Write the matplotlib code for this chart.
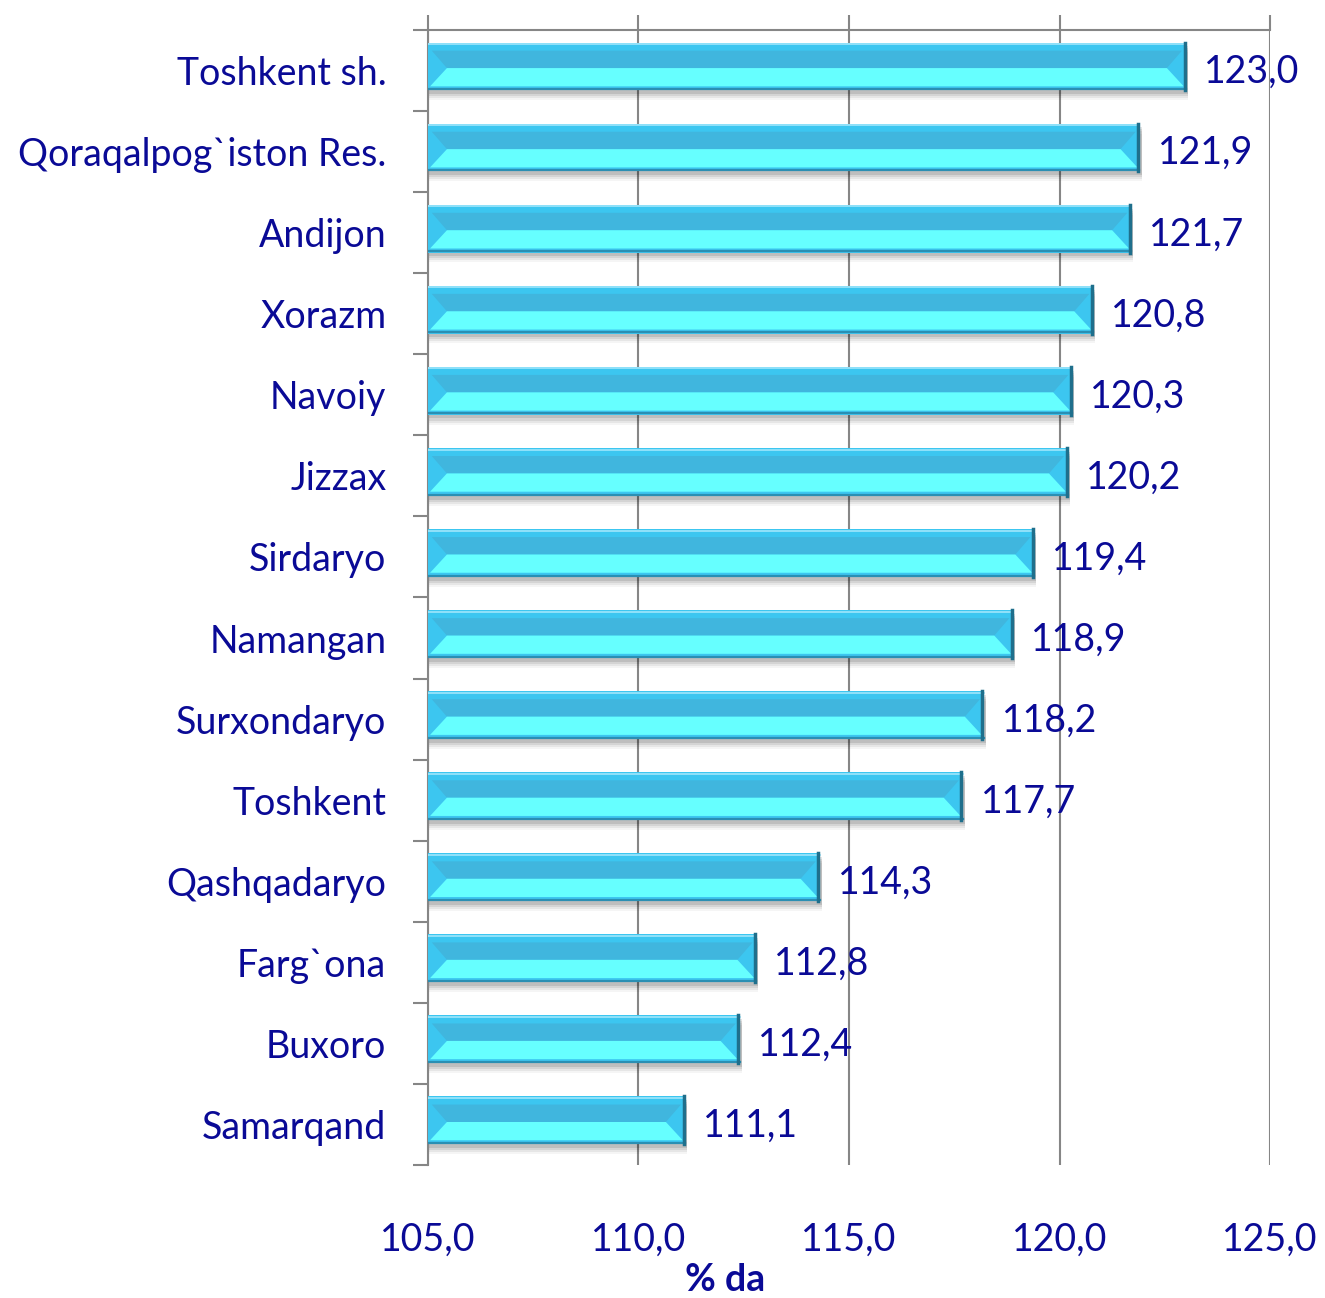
import matplotlib.pyplot as plt
from matplotlib.ticker import FixedLocator
import numpy as np

regions = ['Toshkent sh.', 'Qoraqalpog`iston Res.', 'Andijon', 'Xorazm', 'Navoiy',
           'Jizzax', 'Sirdaryo', 'Namangan', 'Surxondaryo', 'Toshkent',
           'Qashqadaryo', 'Farg`ona', 'Buxoro', 'Samarqand']
values = [123.0, 121.9, 121.7, 120.8, 120.3, 120.2, 119.4, 118.9, 118.2, 117.7,
          114.3, 112.8, 112.4, 111.1]
x_ticks = [105, 110, 115, 120, 125]

navy = '#0a0a96'
grid_c = '#868686'
fs = 27
plt.rcParams['font.family'] = ['Lato', 'DejaVu Sans']

fig = plt.figure(figsize=(13.25, 12.98), dpi=100)
ax = fig.add_axes([0.323, 0.1025, 0.6355, 0.8744])

xmin = x_ticks[0]
pos = np.arange(len(regions))
h = 0.59          # bar height in category units
d = 0.45          # bevel width in value units

for y, v in zip(pos, values):
    yc = y - 0.05
    top, bot, mid = yc - h / 2, yc + h / 2, yc + 0.02
    # soft shadow under the bar
    for k, a in enumerate([0.10, 0.08, 0.06, 0.04]):
        ax.barh(yc + h * 0.08 + k * 0.025, v - xmin + 0.05, height=h, left=xmin,
                color='black', alpha=a, linewidth=0, zorder=2)
    # base body
    ax.barh(yc, v - xmin, height=h, left=xmin, color='#3cc6f0', linewidth=0, zorder=3)
    # darker upper face
    ax.fill([xmin + d, v - d, v - d * 0.2, xmin + d * 0.2],
            [mid, mid, top + 0.1, top + 0.1], color='#40b6de', lw=0, zorder=4)
    # light lower face
    ax.fill([xmin + d, v - d, v - 0.05, xmin + 0.05],
            [mid, mid, bot - 0.05, bot - 0.05], color='#66ffff', lw=0, zorder=4)
    # thin highlight on top, dark rim at bottom and right
    ax.plot([xmin, v], [top + 0.02, top + 0.02], color='#9fe6fb', lw=1.2, zorder=5)
    ax.plot([xmin, v], [bot - 0.015, bot - 0.015], color='#2a8fb3', lw=1.6, zorder=5)
    ax.plot([v - 0.03, v - 0.03], [top, bot], color='#1f6f8c', lw=2.5, zorder=5)
    ax.text(v + 0.43, y + 0.02, f'{v:.1f}'.replace('.', ','), color=navy,
            fontsize=fs, va='center', ha='left', zorder=6)

ax.set_xlim(x_ticks[0], x_ticks[-1])
ax.set_ylim(len(regions) - 0.5, -0.5)

ax.set_xticks(x_ticks)
ax.set_xticklabels([f'{t:.1f}'.replace('.', ',') for t in x_ticks], color=navy, fontsize=fs)
ax.tick_params(axis='x', top=True, bottom=False, labeltop=False, labelbottom=True,
               direction='out', length=11, width=1.5, color=grid_c, pad=30)

ax.set_yticks(pos)
ax.set_yticklabels(regions, color=navy, fontsize=fs)
ax.yaxis.set_minor_locator(FixedLocator(np.arange(len(regions) + 1) - 0.5))
ax.tick_params(axis='y', which='major', length=0, pad=30)
ax.tick_params(axis='y', which='minor', length=11, width=1.5, color=grid_c, direction='out')

ax.grid(axis='x', color=grid_c, linewidth=1.5)
ax.set_axisbelow(True)
for s in ['right', 'bottom']:
    ax.spines[s].set_visible(False)
for s in ['left', 'top']:
    ax.spines[s].set_color(grid_c)
    ax.spines[s].set_linewidth(1.5)

fig.text(725 / 1325, 1 - 1280 / 1298, '% da', color=navy, fontsize=fs,
         fontweight='bold', ha='center', va='center')

fig.savefig('out.png', dpi=100)
